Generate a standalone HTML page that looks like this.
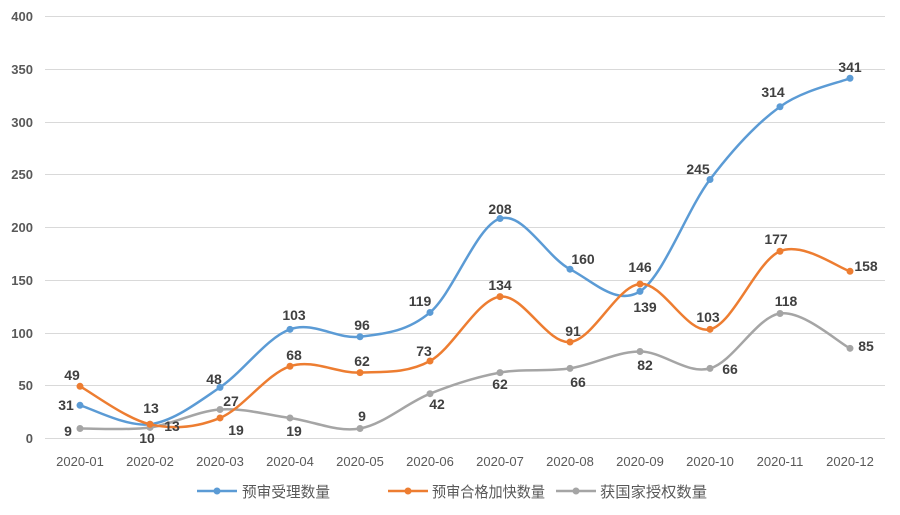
<!DOCTYPE html>
<html><head><meta charset="utf-8"><style>
body{margin:0;background:#fff}
svg{display:block}
.l{font:bold 14px "Liberation Sans","Noto Sans CJK SC",sans-serif;fill:#404040;text-anchor:middle}
.y{font:bold 13px "Liberation Sans",sans-serif;fill:#595959;text-anchor:end}
.x{font:13px "Liberation Sans",sans-serif;fill:#595959;text-anchor:middle}
.g{font:15px "Liberation Sans","Noto Sans CJK SC",sans-serif;fill:#595959}
</style></head><body>
<svg id="s" width="900" height="515" xmlns="http://www.w3.org/2000/svg">
<g stroke="#d9d9d9" stroke-width="1">
<line x1="45" x2="885" y1="16.5" y2="16.5"/><line x1="45" x2="885" y1="69.5" y2="69.5"/>
<line x1="45" x2="885" y1="122.5" y2="122.5"/><line x1="45" x2="885" y1="174.5" y2="174.5"/>
<line x1="45" x2="885" y1="227.5" y2="227.5"/><line x1="45" x2="885" y1="280.5" y2="280.5"/>
<line x1="45" x2="885" y1="333.5" y2="333.5"/><line x1="45" x2="885" y1="385.5" y2="385.5"/>
<line x1="45" x2="885" y1="438.5" y2="438.5"/>
</g>
<g class="y">
<text x="33" y="21">400</text><text x="33" y="74">350</text><text x="33" y="127">300</text>
<text x="33" y="179">250</text><text x="33" y="232">200</text><text x="33" y="285">150</text>
<text x="33" y="338">100</text><text x="33" y="390">50</text><text x="33" y="443">0</text>
</g>
<g class="x">
<text x="80" y="466">2020-01</text><text x="150" y="466">2020-02</text><text x="220" y="466">2020-03</text>
<text x="290" y="466">2020-04</text><text x="360" y="466">2020-05</text><text x="430" y="466">2020-06</text>
<text x="500" y="466">2020-07</text><text x="570" y="466">2020-08</text><text x="640" y="466">2020-09</text>
<text x="710" y="466">2020-10</text><text x="780" y="466">2020-11</text><text x="850" y="466">2020-12</text>
</g>
<g id="series"></g>
<g class="l">
<text x="66" y="410">31</text><text x="214" y="384">48</text><text x="294" y="320">103</text>
<text x="362" y="330">96</text><text x="420" y="306">119</text><text x="500" y="214">208</text>
<text x="583" y="264">160</text><text x="645" y="312">139</text><text x="698" y="174">245</text>
<text x="773" y="97">314</text><text x="850" y="72">341</text>
<text x="72" y="380">49</text><text x="151" y="413">13</text><text x="172" y="431">13</text><text x="236" y="435">19</text>
<text x="294" y="360">68</text><text x="362" y="366">62</text><text x="424" y="356">73</text>
<text x="500" y="290">134</text><text x="573" y="336">91</text><text x="640" y="272">146</text>
<text x="708" y="322">103</text><text x="776" y="244">177</text><text x="866" y="271">158</text>
<text x="68" y="436">9</text><text x="147" y="443">10</text><text x="231" y="406">27</text>
<text x="294" y="436">19</text><text x="362" y="421">9</text><text x="437" y="409">42</text>
<text x="500" y="389">62</text><text x="578" y="387">66</text><text x="645" y="370">82</text>
<text x="730" y="374">66</text><text x="786" y="306">118</text><text x="866" y="351">85</text>
</g>
<g stroke-width="2.5">
<line x1="197" x2="237" y1="491" y2="491" stroke="#5b9bd5"/><circle cx="217" cy="491" r="3.5" fill="#5b9bd5"/>
<line x1="388" x2="428" y1="491" y2="491" stroke="#ed7d31"/><circle cx="408" cy="491" r="3.5" fill="#ed7d31"/>
<line x1="556" x2="596" y1="491" y2="491" stroke="#a5a5a5"/><circle cx="576" cy="491" r="3.5" fill="#a5a5a5"/>
</g>
<text class="g" x="242" y="497" textLength="88" lengthAdjust="spacingAndGlyphs">预审受理数量</text>
<text class="g" x="432" y="497" textLength="113" lengthAdjust="spacingAndGlyphs">预审合格加快数量</text>
<text class="g" x="600" y="497" textLength="107" lengthAdjust="spacingAndGlyphs">获国家授权数量</text>
</svg>
<script>
var S=[["#5b9bd5",[31,13,48,103,96,119,208,160,139,245,314,341]],
["#a5a5a5",[9,10,27,19,9,42,62,66,82,66,118,85]],
["#ed7d31",[49,13,19,68,62,73,134,91,146,103,177,158]]];
var g=document.getElementById("series"),h="";
S.forEach(function(s){var p=s[1].map(function(v,i){return[80+70*i,438-v*1.055]});
var d="M"+p[0][0]+","+p[0][1];
for(var i=0;i<p.length-1;i++){var a=p[i-1]||p[i],b=p[i],c=p[i+1],e=p[i+2]||c;
d+=" C"+(b[0]+(c[0]-a[0])/6)+","+(b[1]+(c[1]-a[1])/6)+" "+(c[0]-(e[0]-b[0])/6)+","+(c[1]-(e[1]-b[1])/6)+" "+c[0]+","+c[1];}
h+='<path d="'+d+'" fill="none" stroke="'+s[0]+'" stroke-width="2.5"/>';
p.forEach(function(q){h+='<circle cx="'+q[0]+'" cy="'+q[1]+'" r="3.5" fill="'+s[0]+'"/>'});});
g.innerHTML=h;
</script>
</body></html>
